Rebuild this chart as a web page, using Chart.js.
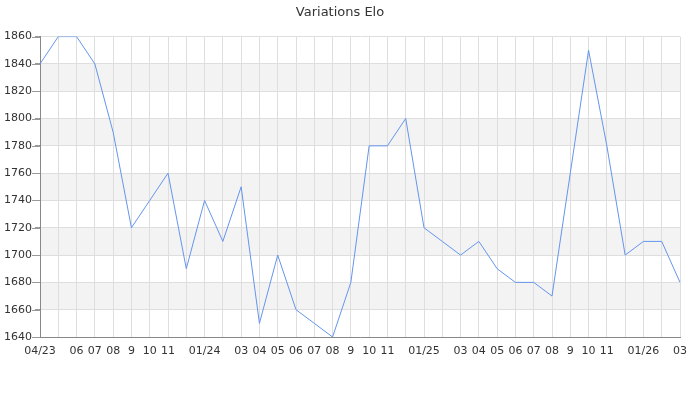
<!DOCTYPE html>
<html>
<head>
<meta charset="utf-8">
<script src="https://cdn.jsdelivr.net/npm/chart.js@4/dist/chart.umd.min.js"></script>
<style>
  html, body { margin: 0; padding: 0; background: #fff; }
  #wrap { width: 700px; height: 400px; }
</style>
</head>
<body>
<div id="wrap"><canvas id="eloChart"></canvas></div>
<script>
// month labels (blank where the original shows nothing)
const monthLabels = [
    "04/23", "", "06", "07", "08", "9", "10", "11", "", "01/24", "", "03",
    "04", "05", "06", "07", "08", "9", "10", "11", "", "01/25", "", "03",
    "04", "05", "06", "07", "08", "9", "10", "11", "", "01/26", "", "03"
];

const eloValues = [
    1840, 1860, 1860, 1840, 1790, 1720, 1740, 1760, 1690, 1740, 1710, 1750,
    1650, 1700, 1660, 1650, 1640, 1680, 1780, 1780, 1800, 1720, 1710, 1700,
    1710, 1690, 1680, 1680, 1670, 1760, 1850, 1780, 1700, 1710, 1710, 1680
];

const yMin = 1640;
const yMax = 1860;
const bandStep = 20;

Chart.defaults.font.family = "'DejaVu Sans', sans-serif";
Chart.defaults.color = '#333';

// grey bands every other 20 points
const bandsPlugin = {
    id: 'bands',
    beforeDraw(chart) {
        const { ctx, chartArea, scales } = chart;
        const y = scales.y;
        ctx.save();
        ctx.fillStyle = '#f3f3f3';
        for (let v = yMin; v < yMax; v += bandStep) {
            if (((v - yMin) / bandStep) % 2 === 1) {
                const top = y.getPixelForValue(v + bandStep);
                const bottom = y.getPixelForValue(v);
                ctx.fillRect(chartArea.left, top, chartArea.right - chartArea.left, bottom - top);
            }
        }
        ctx.restore();
    },
    afterDraw(chart) {
        // longer tick marks at labelled values
        const { ctx, chartArea, scales } = chart;
        const y = scales.y;
        ctx.save();
        ctx.strokeStyle = '#999';
        ctx.lineWidth = 1;
        for (let v = yMin; v <= yMax; v += bandStep) {
            const py = Math.round(y.getPixelForValue(v)) + 0.5;
            ctx.beginPath();
            ctx.moveTo(chartArea.left - 8, py);
            ctx.lineTo(chartArea.left, py);
            ctx.stroke();
        }
        ctx.restore();
    }
};

const ctx = document.getElementById('eloChart').getContext('2d');

new Chart(ctx, {
    type: 'line',
    data: {
        labels: monthLabels,
        datasets: [{
            label: 'Elo',
            data: eloValues,
            borderColor: 'rgb(100, 149, 237)',
            borderWidth: 1,
            pointRadius: 0,
            tension: 0,
            fill: false
        }]
    },
    options: {
        responsive: true,
        maintainAspectRatio: false,
        animation: false,
        layout: {
            padding: { left: 0, right: 20, top: 0, bottom: 0 }
        },
        plugins: {
            legend: { display: false },
            tooltip: { enabled: false },
            title: {
                display: true,
                text: 'Variations Elo',
                color: '#333',
                font: { size: 13, weight: 'normal' },
                padding: { top: 5, bottom: 16 }
            }
        },
        scales: {
            y: {
                min: yMin,
                max: yMax,
                afterFit(scale) { scale.width = 40; },
                ticks: {
                    stepSize: 10,
                    padding: 3,
                    font: { size: 11 },
                    color: '#333',
                    callback: v => (v % 20 === 0 ? v : '')
                },
                grid: {
                    color: c => (c.tick && c.tick.value % 20 === 0 ? '#dedede' : 'rgba(0,0,0,0)'),
                    tickColor: '#999',
                    tickLength: 5
                },
                border: { color: '#888' }
            },
            x: {
                type: 'category',
                offset: false,
                afterFit(scale) { scale.height = 63; },
                ticks: {
                    autoSkip: false,
                    maxRotation: 0,
                    padding: 8,
                    font: { size: 11 },
                    color: '#333'
                },
                grid: {
                    color: '#dedede',
                    drawTicks: false
                },
                border: { color: '#888' }
            }
        }
    },
    plugins: [bandsPlugin]
});
</script>
</body>
</html>
